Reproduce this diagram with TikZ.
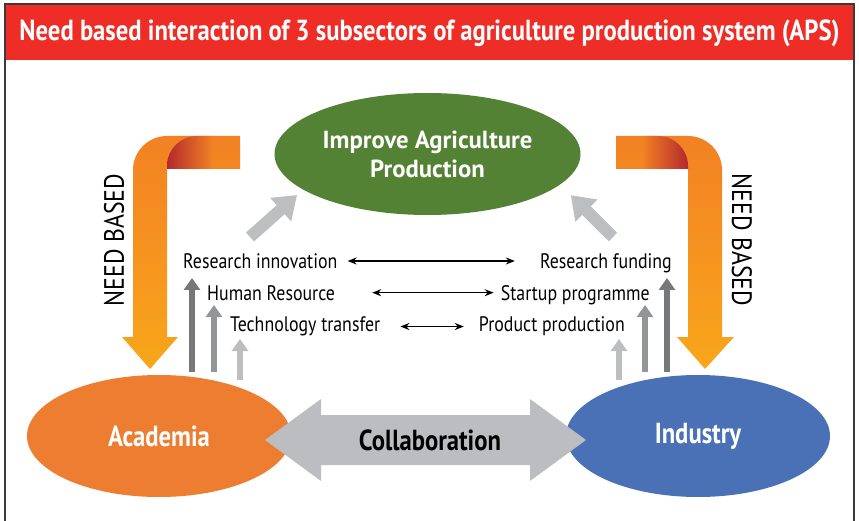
\documentclass[tikz,border=0pt]{standalone}
\usepackage{fontspec}
\setmainfont{PT Sans}
\newfontfamily\condfont{PT Sans}[FakeStretch=0.85]
\usetikzlibrary{shapes.geometric}
\usetikzlibrary{arrows.meta}
\usetikzlibrary{positioning}

\definecolor{headred}{HTML}{EE2D27}
\definecolor{goalgreen}{HTML}{548235}
\definecolor{acadorange}{HTML}{ED7D31}
\definecolor{indblue}{HTML}{4A71B6}
\definecolor{collabgray}{HTML}{BCBDC0}
\definecolor{gdark}{HTML}{77787B}
\definecolor{gmid}{HTML}{939598}
\definecolor{glight}{HTML}{BCBEC0}
\definecolor{orangetop}{HTML}{F28123}
\definecolor{orangebot}{HTML}{F9A61B}
\definecolor{foldred}{HTML}{B3282D}
\definecolor{framegray}{HTML}{3A3A3A}

\tikzset{
	blob/.style={ellipse, minimum width=264pt, minimum height=122pt, text=white,
		font=\condfont\bfseries\fontsize{29}{31}\selectfont},
	lbl/.style={inner sep=0pt, font=\condfont\fontsize{21}{24}\selectfont},
	link/.style={line width=1.5pt, {Stealth[length=9pt,width=7pt]}-{Stealth[length=9pt,width=7pt]}},
	feed/.style={glight, line width=12pt, -{Triangle[length=22pt,width=30pt]}},
	lift/.style={line width=6pt, -{Triangle[length=12pt,width=16pt]}},
	needarrow/.style={top color=orangetop, bottom color=orangebot},
	needtext/.style={inner sep=0pt, font=\condfont\fontsize{28}{30}\selectfont}
}

\begin{document}
\begin{tikzpicture}[x=1pt,y=-1pt]
	\useasboundingbox (0,0) rectangle (859,521);
	% frame and title bar
	\draw[framegray, line width=2pt] (5,521) -- (5,4) -- (854,4) -- (854,521);
	\fill[headred] (6,5) rectangle (853,60);
	\node[text=white, font=\condfont\bfseries\fontsize{29}{31}\selectfont] (title) at (429.5,33)
		{Need based interaction of 3 subsectors of agriculture production system (APS)};

	% the three subsectors
	\node[ellipse, fill=goalgreen, minimum width=269pt, minimum height=122pt, text=white, align=center,
		font=\bfseries\fontsize{24.7}{29}\selectfont] (goal) at (427.5,154) {Improve Agriculture\\Production};
	\node[blob, fill=acadorange] (acad) at (159,436) {Academia};
	\node[blob, fill=indblue] (ind) at (698,436) {Industry};

	% need based bent arrows
	\shade[needarrow] (240,136) [rounded corners=34pt]-- (133,136) [sharp corners]-- (133,337) -- (122,337)
		-- (150,369) -- (178,337) -- (167,337) -- (167,169) -- (240,169) -- cycle;
	\shade[left color=foldred, right color=orangetop] (167,169) [rounded corners=30pt]-- (167,136)
		[sharp corners]-- (212,136) -- (212,169) -- cycle;
	\shade[needarrow] (616,136) [rounded corners=34pt]-- (722,136) [sharp corners]-- (722,337) -- (734,337)
		-- (705,369) -- (677,337) -- (688,337) -- (688,169) -- (616,169) -- cycle;
	\shade[left color=orangetop, right color=foldred] (688,169) [rounded corners=30pt]-- (688,136)
		[sharp corners]-- (643,136) -- (643,169) -- cycle;
	\node[needtext, rotate=90] (needl) at (114,240) {NEED BASED};
	\node[needtext, rotate=-90] (needr) at (742,240) {NEED BASED};

	% what each side brings
	\node[lbl, anchor=base west] (ri) at (183,268.3) {Research innovation};
	\node[lbl, anchor=base west] (hr) at (207,300) {Human Resource};
	\node[lbl, anchor=base west] (tt) at (230,331.7) {Technology transfer};
	\node[lbl, anchor=base east] (rf) at (672,268.3) {Research funding};
	\node[lbl, anchor=base east] (sp) at (650,300) {Startup programme};
	\node[lbl, anchor=base east] (pp) at (625,331.7) {Product production};
	\draw[link, shorten <=10pt, shorten >=25pt] (ri.east) -- (ri.east -| rf.west);
	\draw[link, shorten <=37pt, shorten >=7pt] (hr.east) -- (hr.east -| sp.west);
	\draw[link, shorten <=20pt, shorten >=15pt] (tt.east) -- (tt.east -| pp.west);

	% feeding into the goal
	\coordinate (lfeed) at (250,237);
	\coordinate (rfeed) at (613,237);
	\draw[feed, shorten >=8pt] (lfeed) -- (goal.196);
	\draw[feed, shorten >=15pt] (rfeed) -- (goal.-13);

	% upward arrows
	\coordinate (la1) at (192,372); \coordinate (la1t) at (192,278);
	\coordinate (la2) at (214,372); \coordinate (la2t) at (214,305);
	\coordinate (la3) at (240,380); \coordinate (la3t) at (240,339);
	\coordinate (ra1) at (667,372); \coordinate (ra1t) at (667,278);
	\coordinate (ra2) at (645,372); \coordinate (ra2t) at (645,305);
	\coordinate (ra3) at (619,380); \coordinate (ra3t) at (619,339);
	\draw[lift, gdark] (la1) -- (la1t);
	\draw[lift, gmid] (la2) -- (la2t);
	\draw[lift, glight] (la3) -- (la3t);
	\draw[lift, gdark] (ra1) -- (ra1t);
	\draw[lift, gmid] (ra2) -- (ra2t);
	\draw[lift, glight] (ra3) -- (ra3t);

	% collaboration double arrow
	\fill[collabgray] (265,440) -- (321,399) -- (321,415) -- (530,415) -- (530,399) -- (586,440)
		-- (530,481) -- (530,465) -- (321,465) -- (321,481) -- cycle;
	\node[font=\condfont\bfseries\fontsize{29}{31}\selectfont] (collab) at (430,440) {Collaboration};
\end{tikzpicture}
\end{document}
